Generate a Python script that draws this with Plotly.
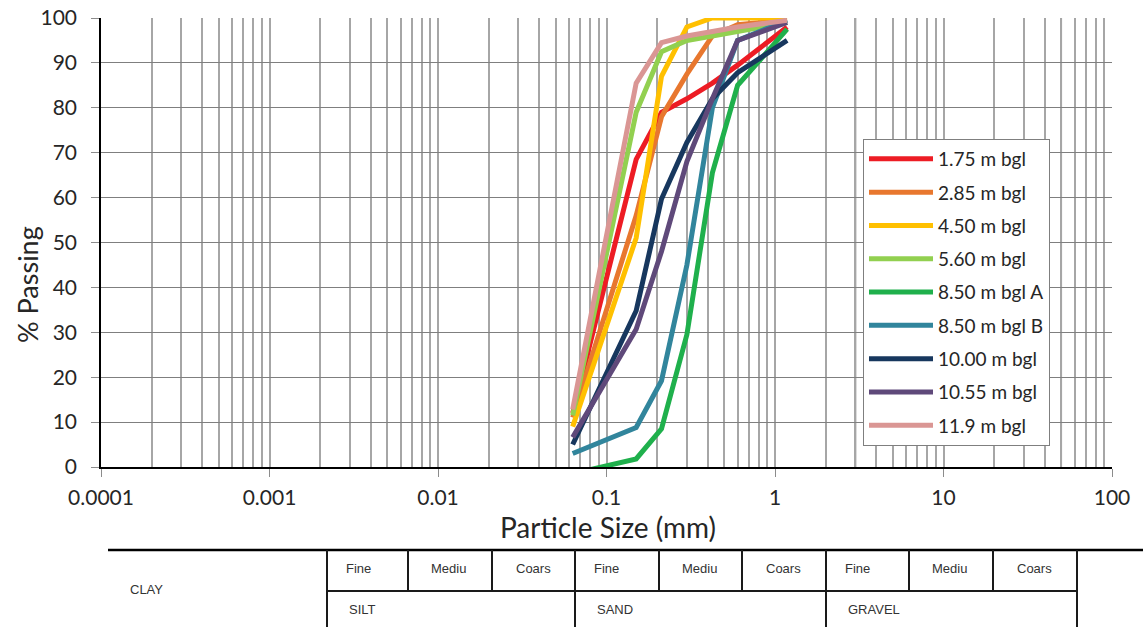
import plotly.graph_objects as go

# Sieve apertures (mm) and percentage passing for each sample depth
sieve_mm = [0.063, 0.15, 0.212, 0.3, 0.425, 0.6, 1.18]

sample_names = [
    "1.75 m bgl", "2.85 m bgl", "4.50 m bgl", "5.60 m bgl", "8.50 m bgl A",
    "8.50 m bgl B", "10.00 m bgl", "10.55 m bgl", "11.9 m bgl",
]

pass_175 = [12.0, 68.5, 79.0, 82.0, 85.5, 89.5, 98.0]
pass_285 = [11.0, 56.0, 78.0, 87.5, 96.0, 98.5, 99.5]
pass_450 = [9.0, 51.0, 87.0, 98.0, 100.0, 100.0, 100.0]
pass_560 = [11.5, 79.0, 92.5, 95.0, 96.0, 97.0, 99.0]
pass_850a = [-1.5, 1.8, 8.5, 29.5, 65.5, 85.0, 97.5]
pass_850b = [3.0, 8.8, 19.2, 45.0, 80.0, 95.0, 99.5]
pass_1000 = [5.0, 34.8, 59.7, 72.3, 82.0, 87.8, 95.0]
pass_1055 = [6.6, 30.7, 48.0, 68.0, 82.0, 95.0, 99.0]
pass_1190 = [12.8, 85.5, 94.5, 96.0, 97.0, 98.0, 99.5]

sample_colors = [
    "#ED1C24", "#E8772E", "#FFC000", "#92D050", "#1FB04C",
    "#31859C", "#17375E", "#5F497A", "#DA9694",
]

x_tick_vals = [0.0001, 0.001, 0.01, 0.1, 1, 10, 100]
x_tick_text = ["0.0001", "0.001", "0.01", "0.1", "1", "10", "100"]

# Heavier reference lines on the grain-size axis (mm)
boundary_mm = [0.002, 3, 50]

# Soil classification strip below the chart
fraction_labels = ["Fine", "Mediu", "Coars"]
major_labels = ["SILT", "SAND", "GRAVEL"]
clay_label = "CLAY"

series = [pass_175, pass_285, pass_450, pass_560, pass_850a,
          pass_850b, pass_1000, pass_1055, pass_1190]

W, H = 1143, 627
L, R, T, B = 101, 31, 18, 160
PW, PH = W - L - R, H - T - B


def fx(px):
    return (px - L) / PW


def fy(py):
    return (H - B - py) / PH


fig = go.Figure()
for i, (name, vals, col) in enumerate(zip(sample_names, series, sample_colors)):
    fig.add_trace(go.Scatter(
        x=sieve_mm, y=vals, name=name, mode="lines",
        line=dict(color=col, width=5), legendgroup=f"g{i}",
    ))

shapes = []
for b in boundary_mm:
    shapes.append(dict(type="line", xref="x", yref="paper", x0=b, x1=b, y0=0, y1=1,
                       line=dict(color="black", width=1.5), layer="below"))

# classification table
tbl_line = dict(color="#1a1a1a", width=2)
shapes.append(dict(type="line", xref="paper", yref="paper",
                   x0=fx(108), x1=fx(1143), y0=fy(550), y1=fy(550),
                   line=dict(color="black", width=2.5)))
shapes.append(dict(type="line", xref="paper", yref="paper",
                   x0=fx(327), x1=fx(1077), y0=fy(591), y1=fy(591), line=tbl_line))
col_x = [327, 408, 492, 575, 659, 742, 826, 909, 993, 1077]
for k, cx in enumerate(col_x):
    y_end = 627 if k % 3 == 0 else 591
    shapes.append(dict(type="line", xref="paper", yref="paper",
                       x0=fx(cx), x1=fx(cx), y0=fy(550), y1=fy(y_end), line=tbl_line))

annotations = []
tbl_font = dict(family="Liberation Sans, Arial", size=13, color="#333333")
pad = {"Fine": 17, "Mediu": 21, "Coars": 22}
for k in range(9):
    lab = fraction_labels[k % 3]
    annotations.append(dict(xref="paper", yref="paper", x=fx(col_x[k] + pad[lab]), y=fy(568),
                            text=lab, showarrow=False, xanchor="left", yanchor="middle",
                            font=tbl_font))
for k, lab in enumerate(major_labels):
    annotations.append(dict(xref="paper", yref="paper", x=fx(col_x[3 * k] + 20), y=fy(609),
                            text=lab, showarrow=False, xanchor="left", yanchor="middle",
                            font=tbl_font))
annotations.append(dict(xref="paper", yref="paper", x=fx(128), y=fy(589), text=clay_label,
                        showarrow=False, xanchor="left", yanchor="middle", font=tbl_font))

# axis titles
annotations.append(dict(xref="paper", yref="paper", x=fx(27), y=fy(285), text="% Passing",
                        textangle=-90, showarrow=False, xanchor="center", yanchor="middle",
                        font=dict(family="Lato", size=27, color="#262626")))
annotations.append(dict(xref="paper", yref="paper", x=fx(608), y=fy(527),
                        text="Particle Size (mm)", showarrow=False, xanchor="center",
                        yanchor="middle", font=dict(family="Lato", size=28, color="#262626")))

fig.update_layout(
    width=W, height=H,
    margin=dict(l=L, r=R, t=T, b=B, autoexpand=False),
    paper_bgcolor="white", plot_bgcolor="white",
    font=dict(family="Lato", color="#262626"),
    shapes=shapes, annotations=annotations,
    xaxis=dict(
        type="log", range=[-4, 2], tickvals=x_tick_vals, ticktext=x_tick_text,
        tickfont=dict(size=21), showgrid=True, gridcolor="#A6A6A6", gridwidth=1.5,
        minor=dict(dtick="D1", showgrid=True, gridcolor="#A6A6A6", gridwidth=1.5),
        showline=True, linecolor="black", linewidth=1.5, automargin=False,
        ticks="outside", ticklen=8, tickcolor="#8C8C8C", zeroline=False,
        ticklabelstandoff=3,
    ),
    yaxis=dict(
        range=[0, 100], dtick=10, tickfont=dict(size=21), automargin=False,
        showgrid=True, gridcolor="#7F7F7F", gridwidth=1,
        showline=True, linecolor="black", linewidth=1.5,
        ticks="outside", ticklen=8, tickcolor="#8C8C8C", zeroline=False,
        ticklabelstandoff=10,
    ),
    showlegend=True,
    legend=dict(
        x=fx(863), y=fy(139), xanchor="left", yanchor="top",
        bgcolor="white", bordercolor="#7F7F7F", borderwidth=1,
        font=dict(family="Lato", size=19, color="#262626"),
        itemwidth=64, tracegroupgap=5.6,
    ),
)

fig.write_html("out.html")
